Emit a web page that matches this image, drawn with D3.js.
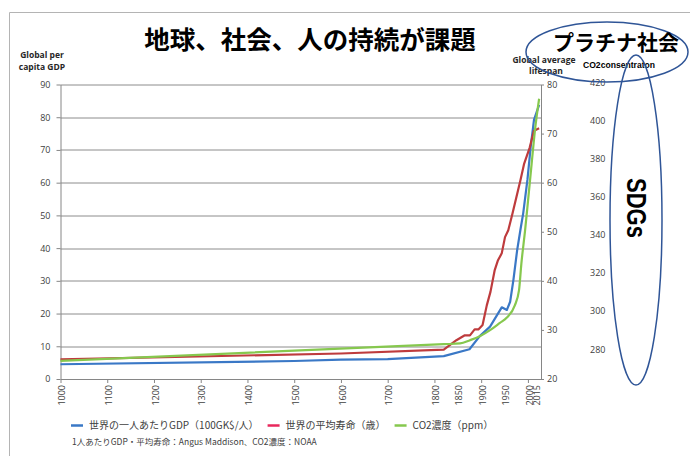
<!DOCTYPE html>
<html>
<head>
<meta charset="utf-8">
<script src="https://cdn.jsdelivr.net/npm/d3@7"></script>
<style>
  body { margin: 0; background: #fff; }
  svg { display: block; font-family: "Open Sans", "Noto Sans CJK JP", sans-serif; }
  .axis path, .axis line { stroke: #868686; }
  .axis text { fill: #404040; font-size: 9px; font-family: "Open Sans", sans-serif; }
  .grid { stroke: #8c8c8c; stroke-width: 1; }
  .jp { font-family: "Noto Sans CJK JP", sans-serif; }
</style>
</head>
<body>
<div id="chart"></div>
<script>
// GDP per capita (left axis)
const gdpYears = [1000, 1500, 1600, 1700, 1820, 1875, 1897, 1919, 1944, 1955, 1962, 1969, 1977, 1984, 1990, 1999, 2006, 2013, 2024];
const gdpValues = [4.5, 5.5, 5.9, 6.1, 7.0, 9.1, 13.1, 16.0, 21.9, 21.1, 23.6, 30.3, 39.4, 45.6, 50.7, 60.9, 71.0, 79.2, 83.8];

// average lifespan (right axis)
const lifeYears = [1000, 1600, 1820, 1847, 1865, 1876, 1886, 1894, 1903, 1912, 1920, 1929, 1936, 1944, 1951, 1958, 1967, 1984, 1992, 2004, 2013, 2024];
const lifeValues = [24.0, 25.2, 26.0, 27.9, 28.9, 28.9, 30.1, 30.1, 31.0, 35.0, 37.8, 42.2, 44.2, 45.6, 48.9, 50.3, 53.7, 60.5, 63.9, 67.2, 70.6, 71.1];

// CO2 concentration (ppm)
const co2Years = [1000, 1820, 1855, 1876, 1897, 1919, 1940, 1955, 1972, 1981, 1986, 1994, 2001, 2008, 2015, 2024];
const co2Values = [273.8, 282.6, 283.0, 284.7, 286.8, 290.0, 293.8, 296.6, 303.0, 311.0, 325.0, 342.5, 359.9, 377.5, 394.9, 411.6];

const gdpTicks = [0, 10, 20, 30, 40, 50, 60, 70, 80, 90];
const lifeTicks = [20, 30, 40, 50, 60, 70, 80];
const co2Ticks = [280, 300, 320, 340, 360, 380, 400, 420];
const xTickYears = [1000, 1100, 1200, 1300, 1400, 1500, 1600, 1700, 1800, 1900, 2000];
const xLabelYears = [1000, 1100, 1200, 1300, 1400, 1500, 1600, 1700, 1800, 1850, 1900, 1950, 2000, 2015];

const seriesNames = ["世界の一人あたりGDP（100GK$/人）", "世界の平均寿命（歳）", "CO2濃度（ppm）"];
const seriesColors = ["#3a78c6", "#be3b3d", "#86c84e"];
const legendColors = ["#3a78c6", "#e8285c", "#86c84e"];

const W = 690, H = 456;
const margin = { top: 84.5, left: 60.5 };
const width = 480.5;
const height = 294.5;

const svg = d3.select("#chart").append("svg")
  .attr("width", W).attr("height", H)
  .attr("viewBox", `0 0 ${W} ${H}`);

// slide frame
svg.append("path")
  .attr("d", `M9.5,${H} V12.5 H${W}`)
  .attr("fill", "none")
  .attr("stroke", "#b4b4b4");

const g = svg.append("g").attr("transform", `translate(${margin.left},${margin.top})`);

const x = d3.scaleLinear().domain([1000, 2028]).range([0, width]);
const gdpY = d3.scaleLinear().domain([0, 90]).range([height, 0]);
const lifeY = d3.scaleLinear().domain([20, 80]).range([height, 0]);
const co2Y = d3.scaleLinear().domain([264.3, 419.1]).range([height, 0]);

// gridlines
g.selectAll(".grid").data(gdpTicks.slice(1)).join("line")
  .attr("class", "grid")
  .attr("x1", 0).attr("x2", width)
  .attr("y1", (d) => Math.round(gdpY(d)) + 0.5)
  .attr("y2", (d) => Math.round(gdpY(d)) + 0.5);

// left axis
g.append("g").attr("class", "axis")
  .call(d3.axisLeft(gdpY).tickValues(gdpTicks).tickSize(4).tickSizeOuter(0).tickPadding(6));

// bottom axis: tick marks only every century
g.append("g").attr("class", "axis")
  .attr("transform", `translate(0,${height})`)
  .call(d3.axisBottom(x).tickValues(xTickYears).tickSize(4).tickSizeOuter(0).tickFormat(""));

// year labels, rotated
const xLabels = g.append("g").attr("class", "axis")
  .attr("transform", `translate(0,${height})`)
  .call(d3.axisBottom(x).tickValues(xLabelYears).tickSize(0).tickFormat(d3.format("d")));
xLabels.select(".domain").remove();
xLabels.selectAll("text")
  .attr("transform", "rotate(-90)")
  .attr("x", -6).attr("y", 1).attr("dy", "0.35em")
  .style("text-anchor", "end");

// right axis: lifespan
g.append("g").attr("class", "axis")
  .attr("transform", `translate(${width},0)`)
  .call(d3.axisRight(lifeY).tickValues(lifeTicks).tickSize(3).tickSizeOuter(0).tickPadding(3));

// CO2 labels
const co2Axis = g.append("g").attr("class", "axis")
  .attr("transform", `translate(${width + 49},0)`)
  .call(d3.axisRight(co2Y).tickValues(co2Ticks).tickSize(0).tickPadding(0));
co2Axis.select(".domain").remove();

// series
const gdpLine = d3.line().x((d, i) => x(gdpYears[i])).y((d) => gdpY(d));
const lifeLine = d3.line().x((d, i) => x(lifeYears[i])).y((d) => lifeY(d));
const co2Line = d3.line().x((d, i) => x(co2Years[i])).y((d) => co2Y(d)).curve(d3.curveMonotoneX);

g.append("path").datum(gdpValues).attr("d", gdpLine)
  .attr("fill", "none").attr("stroke", seriesColors[0]).attr("stroke-width", 2.2).attr("stroke-linejoin", "round");
g.append("path").datum(lifeValues).attr("d", lifeLine)
  .attr("fill", "none").attr("stroke", seriesColors[1]).attr("stroke-width", 2.2).attr("stroke-linejoin", "round");
g.append("path").datum(co2Values).attr("d", co2Line)
  .attr("fill", "none").attr("stroke", seriesColors[2]).attr("stroke-width", 2.2).attr("stroke-linejoin", "round");

// axis titles
const axisTitle = svg.append("g")
  .attr("font-size", 8.5).attr("font-weight", "bold").attr("fill", "#262626")
  .attr("text-anchor", "middle");
axisTitle.append("text").attr("x", 42).attr("y", 58).text("Global per");
axisTitle.append("text").attr("x", 42).attr("y", 70).text("capita GDP");
axisTitle.append("text").attr("x", 544).attr("y", 63).text("Global average");
axisTitle.append("text").attr("x", 546).attr("y", 74).text("lifespan");
svg.append("text")
  .attr("x", 583).attr("y", 68)
  .attr("font-size", 9).attr("font-weight", "bold")
  .attr("font-family", "'Liberation Sans', sans-serif")
  .attr("textLength", 72).attr("lengthAdjust", "spacingAndGlyphs")
  .text("CO2consentraton");

// title
svg.append("text").attr("class", "jp")
  .attr("x", 310).attr("y", 49)
  .attr("text-anchor", "middle")
  .attr("font-size", 25.5).attr("font-weight", "bold")
  .text("地球、社会、人の持続が課題");

// annotations
svg.append("ellipse")
  .attr("cx", 607).attr("cy", 52).attr("rx", 81).attr("ry", 30)
  .attr("fill", "none").attr("stroke", "#2f5597").attr("stroke-width", 1.5);
svg.append("text").attr("class", "jp")
  .attr("x", 616).attr("y", 50)
  .attr("text-anchor", "middle")
  .attr("font-size", 21).attr("font-weight", "bold")
  .text("プラチナ社会");
svg.append("ellipse")
  .attr("cx", 636).attr("cy", 220).attr("rx", 26).attr("ry", 165)
  .attr("fill", "none").attr("stroke", "#2f5597").attr("stroke-width", 1.5);
svg.append("text")
  .attr("transform", "translate(627,208) rotate(90)")
  .attr("text-anchor", "middle")
  .attr("font-family", "'Liberation Sans', sans-serif")
  .attr("font-size", 28).attr("font-weight", "bold")
  .attr("textLength", 60).attr("lengthAdjust", "spacingAndGlyphs")
  .text("SDGs");

// legend
const legend = svg.append("g").attr("class", "jp").attr("font-size", 10).attr("fill", "#404040");
let lx = 71;
seriesNames.forEach((name, i) => {
  legend.append("line")
    .attr("x1", lx).attr("x2", lx + 12)
    .attr("y1", 425.5).attr("y2", 425.5)
    .attr("stroke", legendColors[i]).attr("stroke-width", 2.5);
  const t = legend.append("text").attr("x", lx + 18).attr("y", 429).text(name);
  lx += 18 + t.node().getComputedTextLength() + 9;
});

svg.append("text").attr("class", "jp")
  .attr("x", 72).attr("y", 445)
  .attr("font-size", 8.5).attr("fill", "#404040")
  .text("1人あたりGDP・平均寿命：Angus Maddison、CO2濃度：NOAA");
</script>
</body>
</html>
